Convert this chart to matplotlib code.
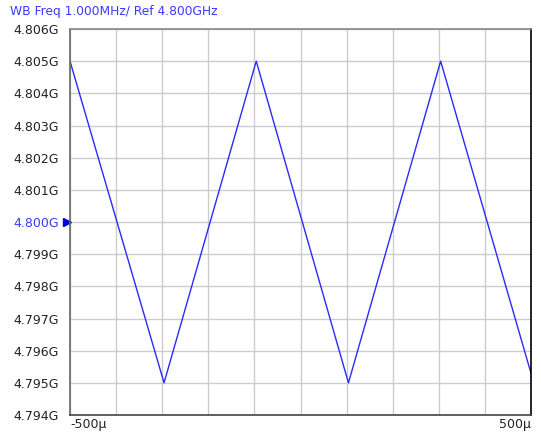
import matplotlib.pyplot as plt
import numpy as np

# trace corner points (time in us, frequency in GHz)
t_us = [-500, -296, -96, 104, 304, 500]
freq_ghz = [4.805, 4.795, 4.805, 4.795, 4.805, 4.7953]

y_ticks = [4.794 + 0.001 * i for i in range(13)]
y_labels = ["%.3fG" % v for v in y_ticks]
ref_ghz = 4.800
title = "WB Freq 1.000MHz/ Ref 4.800GHz"

blue = "#3a3aff"

fig = plt.figure(figsize=(5.41, 4.33), dpi=100)
ax = fig.add_axes([70 / 541, 1 - 415 / 433, 461 / 541, 386 / 433])

ax.plot(t_us, freq_ghz, color="#2a2aff", lw=1.0)

ax.set_xlim(-500, 500)
ax.set_ylim(4.794, 4.806)
ax.set_xticks(np.linspace(-500, 500, 11))
ax.set_yticks(y_ticks)
ax.set_yticklabels(y_labels, fontsize=9, color="#222222")
ax.set_xticklabels([])
ax.tick_params(length=0, pad=8)
ax.grid(True, color="#cccccc", lw=1)

for lab, v in zip(ax.get_yticklabels(), y_ticks):
    if abs(v - ref_ghz) < 1e-6:
        lab.set_color(blue)

ax.spines["left"].set_color("#666666")
ax.spines["top"].set_color("#888888")
ax.spines["bottom"].set_color("#444444")
ax.spines["right"].set_color("#000000")
for s in ax.spines.values():
    s.set_linewidth(1.2)

# reference marker just left of the axis
shift = plt.matplotlib.transforms.ScaledTranslation(-3.5 / 100, 0, fig.dpi_scale_trans)
ax.plot([-500], [ref_ghz], marker=">", color="#0000dd", markersize=5.5,
        clip_on=False, transform=ax.transData + shift)

ax.text(0, -0.008, "-500\u00b5", transform=ax.transAxes, ha="left", va="top",
        fontsize=9, color="#222222")
ax.text(1, -0.008, "500\u00b5", transform=ax.transAxes, ha="right", va="top",
        fontsize=9, color="#222222")

fig.text(10 / 541, 1 - 12 / 433, title, ha="left", va="center",
         fontsize=8.8, color=blue)

fig.savefig("out.png", dpi=100)
